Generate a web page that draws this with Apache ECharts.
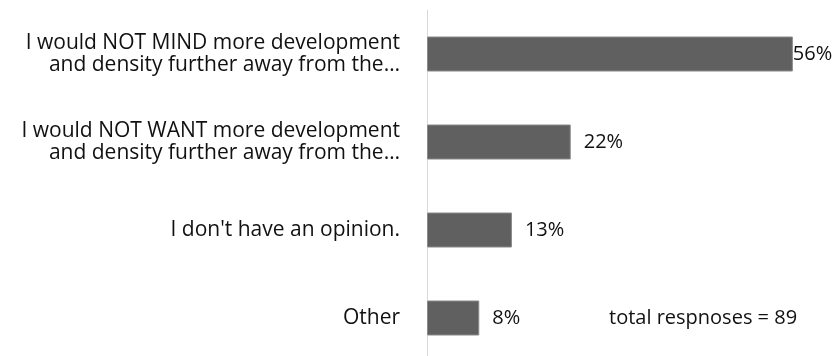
<!DOCTYPE html>
<html>
<head>
<meta charset="utf-8">
<script src="https://cdn.jsdelivr.net/npm/echarts@6/dist/echarts.min.js"></script>
<style>
  html, body { margin: 0; padding: 0; background: #fff; overflow: hidden; }
  /* the plot runs a few pixels past the bottom edge of the window */
  #chart { width: 837px; height: 362px; }
</style>
</head>
<body>
<div id="chart"></div>
<script>
// Survey answers, top to bottom
const categories = [
  'I would NOT MIND more development\nand density further away from the…',
  'I would NOT WANT more development\nand density further away from the…',
  "I don't have an opinion.",
  'Other'
];
// Share of responses, in percent
const shares = [56, 22, 13, 8];
const totalResponses = 89;

const FONT = '"Open Sans", sans-serif';
const chart = echarts.init(document.getElementById('chart'), null, { renderer: 'canvas' });

chart.setOption({
  animation: false,
  backgroundColor: '#ffffff',
  title: {
    text: 'total respnoses = ' + totalResponses,
    left: 604,
    top: 303,
    textStyle: { fontFamily: FONT, fontSize: 20, fontWeight: 'normal', color: '#111' }
  },
  grid: { left: 427, top: 10, right: 18, bottom: 0 },
  xAxis: {
    type: 'value',
    min: 0,
    max: 60,
    show: false
  },
  yAxis: {
    type: 'category',
    inverse: true,
    data: categories,
    axisLine: { show: true, lineStyle: { color: '#d9d9d9', width: 1 } },
    axisTick: { show: false },
    axisLabel: {
      margin: 27,
      fontFamily: FONT,
      fontSize: 21,
      lineHeight: 22,
      color: '#111',
      align: 'right'
    }
  },
  series: [{
    type: 'bar',
    barWidth: 35,
    data: shares.map((v, i) => ({
      value: v,
      label: { distance: i === 0 ? 0 : 13 }
    })),
    itemStyle: { color: '#606060', borderColor: '#8a8a8a', borderWidth: 1 },
    label: {
      show: true,
      position: 'right',
      formatter: '{c}%',
      fontFamily: FONT,
      fontSize: 20,
      color: '#111'
    }
  }]
});
</script>
</body>
</html>
